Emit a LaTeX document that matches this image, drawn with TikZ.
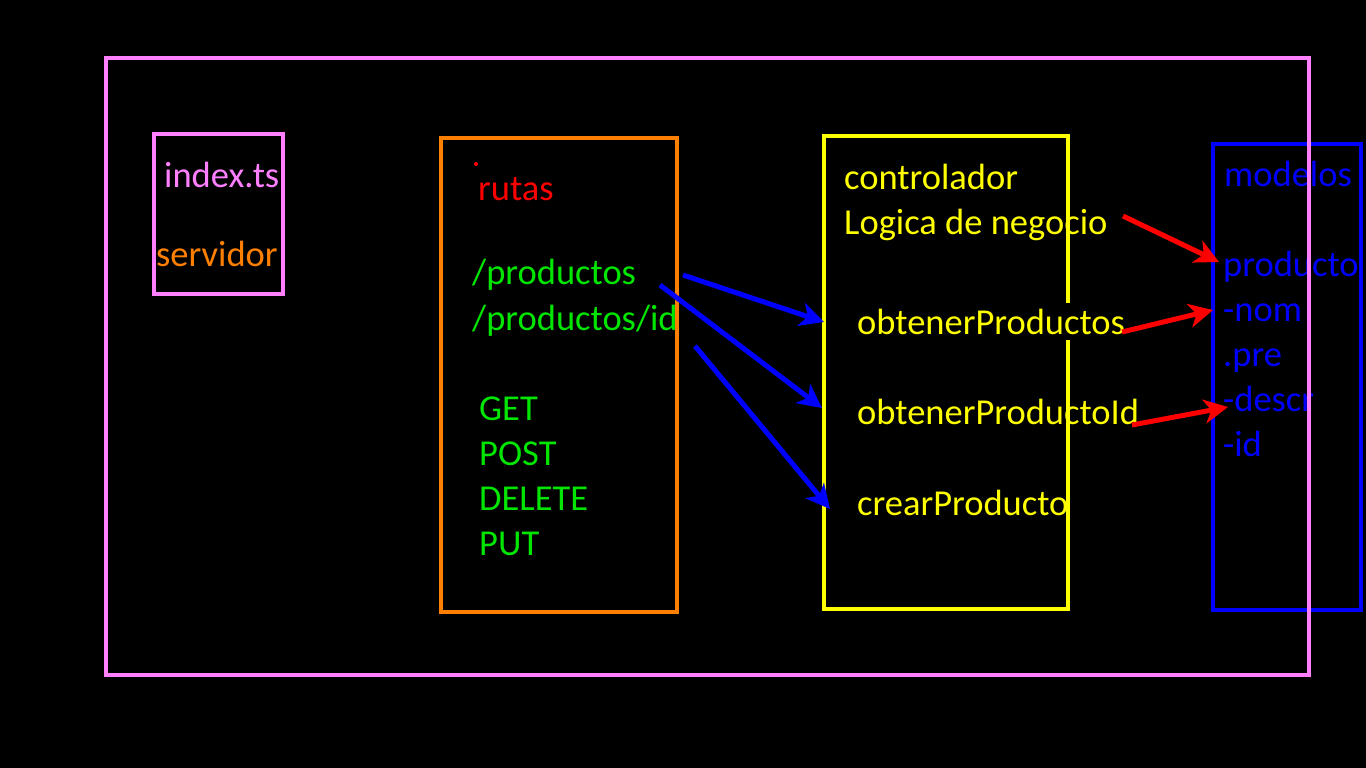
\documentclass[tikz,border=0pt]{standalone}
\usepackage{fontspec}
\setmainfont{Carlito}
\usetikzlibrary{arrows.meta}
\definecolor{cpink}{RGB}{255,128,255}
\definecolor{corange}{RGB}{255,128,0}
\definecolor{cyellow}{RGB}{255,255,0}
\definecolor{cgreen}{RGB}{0,230,0}
\definecolor{cred}{RGB}{255,0,0}
\definecolor{cblue}{RGB}{0,0,255}
\begin{document}
\begin{tikzpicture}[x=1pt,y=-1pt,
  box/.style={line width=4pt},
  txt/.style={anchor=base west,inner sep=0pt,font=\fontsize{36.5}{44}\selectfont},
  barrow/.style={cblue,line width=5pt,-{Stealth[length=24pt,width=24pt,inset=7pt]}},
  rarrow/.style={cred,line width=5pt,-{Stealth[length=24pt,width=24pt,inset=7pt]}}]
\fill[black] (0,0) rectangle (1366,768);
\useasboundingbox (0,0) rectangle (1366,768);
% boxes
\draw[box,cpink] (154,134) rectangle (283,294);
\draw[box,corange] (441,138) rectangle (677,612);
\draw[box,cyellow] (824,136) rectangle (1068,609);
\draw[box,cblue] (1213,144) rectangle (1361,610);
% index box texts
\node[txt,cpink] (idx) at (164,187) {index.ts};
\node[txt,corange] (srv) at (156,266) {servidor};
% rutas
\fill[cred] (476,164) circle (2pt);
\node[txt,cred] (rut) at (478,200) {rutas};
\node[txt,cgreen] (p1) at (472,284) {/productos};
\node[txt,cgreen] (p2) at (472,330) {/productos/id};
\node[txt,cgreen] (get) at (479,420) {GET};
\node[txt,cgreen] (post) at (479,465) {POST};
\node[txt,cgreen] (del) at (479,510) {DELETE};
\node[txt,cgreen] (put) at (479,555) {PUT};
% controlador
\node[txt,cyellow] (ctl) at (844,189) {controlador};
\node[txt,cyellow] (log) at (844,234) {Logica de negocio};
\node[txt,cyellow,fill=black,inner ysep=6pt] (op) at (857,334) {obtenerProductos};
\node[txt,cyellow] (opi) at (857,424) {obtenerProductoId};
\node[txt,cyellow] (cp) at (857,515) {crearProducto};
% modelos
\node[txt,cblue] (mod) at (1224,186) {modelos};
\node[txt,cblue] (prd) at (1223,276) {producto};
\node[txt,cblue] (nom) at (1223,321) {-nom};
\node[txt,cblue] (pre) at (1223,366) {.pre};
\node[txt,cblue] (des) at (1223,411) {-descr};
\node[txt,cblue] (iid) at (1223,456) {-id};
% outer pink box (drawn over)
\draw[box,cpink] (106,58) rectangle (1309,675);
% connector points
\coordinate (b1s) at (683,275); \coordinate (b1e) at (824,322);
\coordinate (b2s) at (660,285); \coordinate (b2e) at (822,408);
\coordinate (b3s) at (695,346); \coordinate (b3e) at (830,509);
\coordinate (r1s) at (1123,216); \coordinate (r1e) at (1219,262);
\coordinate (r2s) at (1122,332); \coordinate (r2e) at (1213,310);
\coordinate (r3s) at (1132,425); \coordinate (r3e) at (1228,407);
\draw[barrow] (b1s) -- (b1e);
\draw[barrow] (b2s) -- (b2e);
\draw[barrow] (b3s) -- (b3e);
\draw[rarrow] (r1s) -- (r1e);
\draw[rarrow] (r2s) -- (r2e);
\draw[rarrow] (r3s) -- (r3e);
\end{tikzpicture}
\end{document}
